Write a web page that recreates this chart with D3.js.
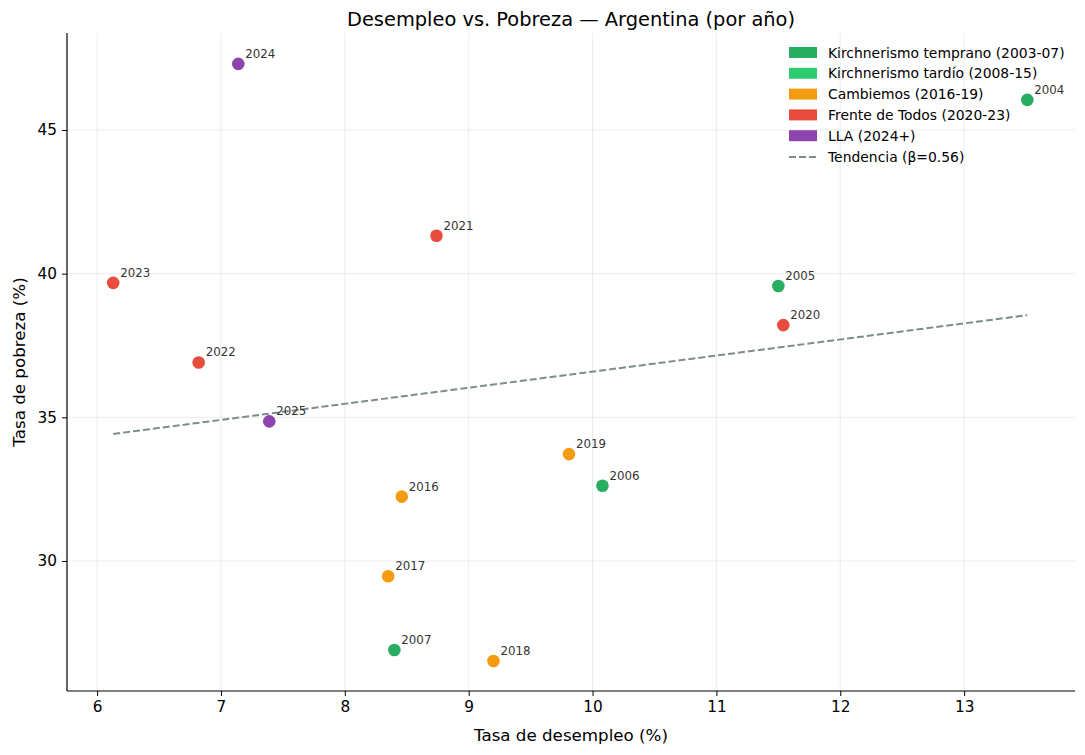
<!DOCTYPE html>
<html>
<head>
<meta charset="utf-8">
<script src="https://cdn.jsdelivr.net/npm/d3@7"></script>
<style>
  body { margin: 0; background: #fff; }
  svg { font-family: "DejaVu Sans", sans-serif; }
</style>
</head>
<body>
<div id="chart"></div>
<script>
// data
const years = [2004, 2005, 2006, 2007, 2016, 2017, 2018, 2019, 2020, 2021, 2022, 2023, 2024, 2025]
const unemployment = [13.51, 11.50, 10.08, 8.40, 8.46, 8.35, 9.20, 9.81, 11.54, 8.74, 6.82, 6.13, 7.14, 7.39]
const poverty = [46.05, 39.57, 32.62, 26.90, 32.24, 29.47, 26.52, 33.72, 38.21, 41.32, 36.91, 39.68, 47.30, 34.86]
const period = ["early", "early", "early", "early", "macri", "macri", "macri", "macri", "fdt", "fdt", "fdt", "fdt", "lla", "lla"]

// legend entries
const periodKeys = ["early", "late", "macri", "fdt", "lla"]
const periodLabels = ["Kirchnerismo temprano (2003-07)", "Kirchnerismo tardío (2008-15)", "Cambiemos (2016-19)", "Frente de Todos (2020-23)", "LLA (2024+)"]
const periodColors = ["#27ae60", "#2ecc71", "#f39c12", "#e74c3c", "#8e44ad"]

// trend line (least squares as shown in the legend)
const trendSlope = 0.56
const trendIntercept = 30.99

const xTicks = [6, 7, 8, 9, 10, 11, 12, 13]
const yTicks = [30, 35, 40, 45]

const width = 1085
const height = 755
const margin = {top: 33, right: 10, bottom: 64, left: 67}

const svg = d3.select("#chart").append("svg")
    .attr("width", width)
    .attr("height", height)

const x = d3.scaleLinear()
    .domain([5.757, 13.895])
    .range([margin.left, width - margin.right])

const y = d3.scaleLinear()
    .domain([25.475, 48.376])
    .range([height - margin.bottom, margin.top])

const color = d3.scaleOrdinal().domain(periodKeys).range(periodColors)

// grid
svg.append("g")
    .selectAll("line")
    .data(xTicks)
    .join("line")
    .attr("x1", d => x(d)).attr("x2", d => x(d))
    .attr("y1", margin.top).attr("y2", height - margin.bottom)
    .attr("stroke", "#b0b0b0").attr("stroke-opacity", 0.3).attr("stroke-width", 0.8)

svg.append("g")
    .selectAll("line")
    .data(yTicks)
    .join("line")
    .attr("x1", margin.left).attr("x2", width - margin.right)
    .attr("y1", d => y(d)).attr("y2", d => y(d))
    .attr("stroke", "#b0b0b0").attr("stroke-opacity", 0.3).attr("stroke-width", 0.8)

// axes
const xAxis = svg.append("g")
    .attr("transform", `translate(0,${height - margin.bottom})`)
    .call(d3.axisBottom(x).tickValues(xTicks).tickSize(5).tickPadding(5).tickSizeOuter(0))
xAxis.select(".domain").attr("stroke", "#000").attr("stroke-width", 1.2)
    .attr("d", `M${margin.left},0H${width - margin.right}`)

const yAxis = svg.append("g")
    .attr("transform", `translate(${margin.left},0)`)
    .call(d3.axisLeft(y).tickValues(yTicks).tickSize(5).tickPadding(5).tickSizeOuter(0))
yAxis.select(".domain").attr("stroke", "#000").attr("stroke-width", 1.2)
    .attr("d", `M0,${margin.top}V${height - margin.bottom}`)

svg.selectAll(".tick text")
    .style("font-family", "\"DejaVu Sans\", sans-serif")
    .style("font-size", "15.3px")
    .attr("fill", "#000")
svg.selectAll(".tick line").attr("stroke", "#000").attr("stroke-width", 1)

// trend line
const xMin = d3.min(unemployment)
const xMax = d3.max(unemployment)
svg.append("line")
    .attr("x1", x(xMin)).attr("y1", y(trendIntercept + trendSlope * xMin))
    .attr("x2", x(xMax)).attr("y2", y(trendIntercept + trendSlope * xMax))
    .attr("stroke", "#7f8c8d").attr("stroke-width", 2)
    .attr("stroke-dasharray", "7,3")

// points
const pts = years.map((yr, i) => ({year: yr, u: unemployment[i], p: poverty[i], period: period[i]}))

svg.append("g")
    .selectAll("circle")
    .data(pts)
    .join("circle")
    .attr("cx", d => x(d.u))
    .attr("cy", d => y(d.p))
    .attr("r", 6.3)
    .attr("fill", d => color(d.period))

svg.append("g")
    .selectAll("text")
    .data(pts)
    .join("text")
    .attr("x", d => x(d.u) + 7)
    .attr("y", d => y(d.p) - 6)
    .attr("font-size", "11.8px")
    .attr("fill", "#333")
    .text(d => d.year)

// titles
svg.append("text")
    .attr("x", (margin.left + width - margin.right) / 2)
    .attr("y", 26)
    .attr("text-anchor", "middle")
    .attr("font-size", "19.4px")
    .text("Desempleo vs. Pobreza — Argentina (por año)")

svg.append("text")
    .attr("x", (margin.left + width - margin.right) / 2)
    .attr("y", 741)
    .attr("text-anchor", "middle")
    .attr("font-size", "16.7px")
    .text("Tasa de desempleo (%)")

svg.append("text")
    .attr("transform", `translate(25,${(margin.top + height - margin.bottom) / 2}) rotate(-90)`)
    .attr("text-anchor", "middle")
    .attr("font-size", "16.7px")
    .text("Tasa de pobreza (%)")

// legend
const legend = svg.append("g").attr("transform", "translate(789,53)")
const rowH = 20.8

legend.selectAll("rect")
    .data(periodKeys)
    .join("rect")
    .attr("x", 0)
    .attr("y", (d, i) => i * rowH - 6)
    .attr("width", 28)
    .attr("height", 11)
    .attr("fill", (d, i) => periodColors[i])

legend.append("line")
    .attr("x1", 0).attr("x2", 28)
    .attr("y1", 5 * rowH).attr("y2", 5 * rowH)
    .attr("stroke", "#7f8c8d").attr("stroke-width", 2)
    .attr("stroke-dasharray", "7,3")

legend.selectAll("text")
    .data(periodLabels.concat(["Tendencia (β=" + trendSlope.toFixed(2) + ")"]))
    .join("text")
    .attr("x", 39)
    .attr("y", (d, i) => i * rowH + 4.5)
    .attr("font-size", "13.9px")
    .text(d => d)
</script>
</body>
</html>
